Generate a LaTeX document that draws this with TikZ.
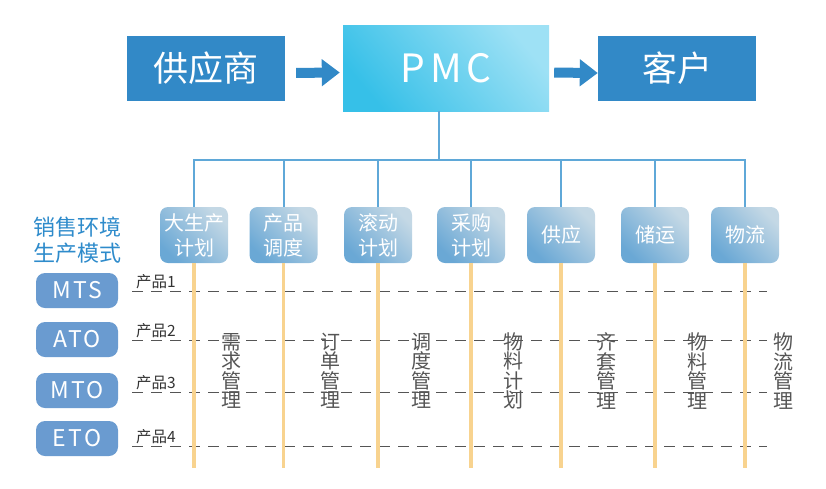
\documentclass[tikz,border=0pt]{standalone}
\usepackage{fontspec}
\setmainfont{Noto Sans CJK SC}
\usetikzlibrary{arrows.meta,positioning}

\definecolor{topblue}{HTML}{3289C7}
\definecolor{pmcdark}{HTML}{36C0E8}
\definecolor{pmclight}{HTML}{9EE1F5}
\definecolor{boxdark}{HTML}{6AA8D5}
\definecolor{boxlight}{HTML}{C4D8E5}
\definecolor{busblue}{HTML}{5FA8D8}
\definecolor{modeblue}{HTML}{6A9BD0}
\definecolor{headblue}{HTML}{2E8BCB}
\definecolor{flow}{HTML}{F8D38F}
\definecolor{txtgray}{HTML}{555555}

\newcommand*{\ybus}{160}
\newcommand*{\ybottom}{468}
\newcommand*{\xleft}{132}
\newcommand*{\xright}{767}

\begin{document}
\begin{tikzpicture}
[
	x=1pt,
	y=-1pt,
	topbox/.style={rectangle,fill=topblue,text=white,inner sep=0pt,minimum width=158pt,minimum height=65pt,font=\fontsize{35}{35}\selectfont},
	pmcbox/.style={rectangle,inner sep=0pt,minimum width=206pt,minimum height=86pt,text=white,
		bottom color=pmcdark,top color=pmclight,shading angle=-50,font=\fontsize{39}{39}\selectfont\addfontfeature{LetterSpace=12}},
	bigarrow/.style={draw=topblue,line width=10pt,-{Triangle[length=18pt,width=26pt]}},
	stepbox/.style={rectangle,rounded corners=8pt,inner sep=0pt,minimum width=68pt,minimum height=56pt,text=white,align=center,
		bottom color=boxdark,top color=boxlight,shading angle=-45,font=\fontsize{20}{25}\selectfont},
	modebox/.style={rectangle,rounded corners=9pt,fill=modeblue,text=white,inner sep=0pt,minimum width=82pt,minimum height=35pt,font=\fontsize{23}{23}\selectfont\addfontfeature{LetterSpace=10}},
	prodlabel/.style={inner sep=1pt,text=black!80,font=\fontsize{15.5}{15.5}\selectfont},
	dashline/.style={draw=txtgray,line width=1pt,dash pattern=on 11pt off 8pt},
	vtext/.style={align=center,text=txtgray,inner sep=0pt,font=\fontsize{20}{19.5}\selectfont},
	bus/.style={draw=busblue,line width=2pt},
	flowline/.style={draw=flow,line width=3.5pt}
]
	\useasboundingbox (0,0) rectangle (826,488);

	% top row
	\node[topbox] (supplier) at (206,68.5) {供应商};
	\node[pmcbox] (pmc) at (446,68) {PMC};
	\node[topbox] (customer) at (677,68.5) {客户};
	\draw[bigarrow,shorten <=11pt,shorten >=3pt] ([yshift=-4.5pt]supplier.east) -- ([yshift=-4.5pt]pmc.west);
	\draw[bigarrow,shorten <=5pt] ([yshift=-4.5pt]pmc.east) -- ([yshift=-4.5pt]customer.west);

	% planning steps
	\foreach \i/\x/\txt in {1/194/{大生产\\计划},2/283.5/{产品\\调度},3/378/{滚动\\计划},4/471/{采购\\计划},5/561/供应,6/655/储运,7/745/物流} {
		\node[stepbox] (b\i) at (\x,235) {\txt};
	}

	% bus from PMC
	\coordinate (bus) at (439,\ybus);
	\coordinate (bottom) at (0,\ybottom);
	\foreach \i in {1,...,7} {
		\draw[bus] (pmc.south -| bus) -- (bus) -| (b\i.north);
	}

	% products
	\foreach \i/\y in {1/291,2/340,3/392,4/446} {
		\coordinate (dl\i) at (\xleft,\y);
		\coordinate (dr\i) at (\xright,\y);
		\draw[dashline] (dl\i) -- (dr\i);
		\node[prodlabel,above right=1pt and 3pt of dl\i] (p\i) {产品\i};
	}

	% flow lines
	\foreach \i in {1,...,7} {
		\draw[flowline] (b\i.south) -- (b\i.south |- bottom);
	}

	% modes
	\node[align=center,text=headblue,inner sep=0pt,font=\fontsize{22}{26}\selectfont] (head) at (77,240) {销售环境\\生产模式};
	\foreach \i/\y/\m in {1/290.5/MTS,2/339.5/ATO,3/390.5/MTO,4/438.5/ETO} {
		\node[modebox] (m\i) at (77,\y) {\m};
	}

	% management tasks
	\foreach \i/\x/\txt in {1/231/{需\\求\\管\\理},2/330/{订\\单\\管\\理},3/421/{调\\度\\管\\理},4/513/{物\\料\\计\\划},5/606/{齐\\套\\管\\理},6/697/{物\\料\\管\\理},7/783/{物\\流\\管\\理}} {
		\node[vtext] (t\i) at (\x,371) {\txt};
	}

\end{tikzpicture}
\end{document}
